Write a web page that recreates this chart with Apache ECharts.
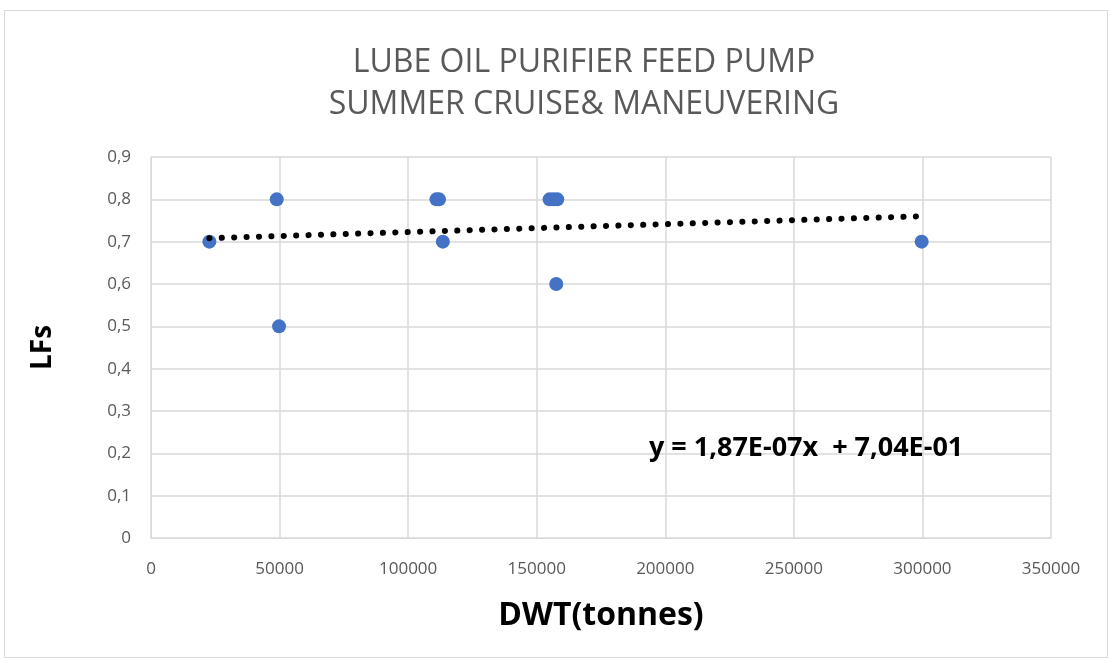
<!DOCTYPE html>
<html>
<head>
<meta charset="utf-8">
<script src="https://cdn.jsdelivr.net/npm/echarts@6/dist/echarts.min.js"></script>
<style>
  html, body { margin: 0; padding: 0; background: #fff; }
  #main {
    position: absolute;
    left: 4px; top: 10px;
    width: 1104px; height: 648px;
    border: 1px solid #d9d9d9;
    box-sizing: border-box;
  }
</style>
</head>
<body>
<div id="main"></div>
<script>
// DWT (tonnes) and load factors
var dwt = [22700, 48900, 49800, 111000, 112000, 113500, 155000, 156500, 158000, 157600, 299700];
var lfs = [0.7, 0.8, 0.5, 0.8, 0.8, 0.7, 0.8, 0.8, 0.8, 0.6, 0.7];
// trendline shown on the chart: y = 1,87E-07x + 7,04E-01
var slope = 1.87e-7;
var intercept = 0.704;
var trendX = [22700, 299700];

var chartDom = document.getElementById("main");
var myChart = echarts.init(chartDom);

var points = dwt.map(function (x, i) { return [x, lfs[i]]; });
var trend = trendX.map(function (x) { return [x, slope * x + intercept]; });

var font = "'Open Sans', sans-serif";

var option = {
  animation: false,
  textStyle: { fontFamily: font },
  grid: { left: 146, right: 56, top: 146, bottom: 119 },
  xAxis: {
    type: "value",
    min: 0,
    max: 350000,
    interval: 50000,
    name: "DWT(tonnes)",
    nameLocation: "middle",
    nameGap: 62,
    nameTextStyle: { fontSize: 32, fontWeight: "bold", color: "#000", fontFamily: font },
    axisLine: { lineStyle: { color: "#d9d9d9" } },
    axisTick: { show: false },
    axisLabel: {
      fontSize: 17,
      color: "#595959",
      margin: 23,
      formatter: function (v) { return String(v); },
    },
    splitLine: { lineStyle: { color: "#d9d9d9", width: 1.5 } },
  },
  yAxis: {
    type: "value",
    min: 0,
    max: 0.9,
    interval: 0.1,
    name: "LFs",
    nameLocation: "middle",
    nameGap: 94,
    nameTextStyle: { fontSize: 28, fontWeight: "bold", color: "#000", fontFamily: font },
    axisLine: { show: true, lineStyle: { color: "#d9d9d9" } },
    axisTick: { show: false },
    axisLabel: {
      fontSize: 17,
      color: "#595959",
      margin: 20,
      formatter: function (v) { return String(Math.round(v * 10) / 10).replace(".", ","); },
    },
    splitLine: { lineStyle: { color: "#d9d9d9", width: 1.5 } },
  },
  graphic: [
    {
      type: "text",
      x: 579,
      y: 31,
      z: 100,
      style: {
        text: "LUBE OIL PURIFIER FEED PUMP\nSUMMER CRUISE& MANEUVERING",
        align: "center",
        verticalAlign: "top",
        fontSize: 32,
        lineHeight: 42,
        fontFamily: font,
        fill: "#595959",
      },
    },
    {
      type: "text",
      left: 644,
      top: 424,
      z: 100,
      style: {
        text: "y = 1,87E-07x  + 7,04E-01",
        fontSize: 27,
        fontWeight: "bold",
        fontFamily: font,
        fill: "#000",
      },
    },
  ],
  series: [
    {
      name: "LFs",
      type: "scatter",
      data: points,
      symbolSize: 14,
      itemStyle: { color: "#4472c4", opacity: 1 },
      z: 3,
    },
    {
      name: "Trend",
      type: "line",
      data: trend,
      symbol: "none",
      lineStyle: { color: "#000", width: 6, type: [0.1, 12.3], cap: "round" },
      z: 4,
    },
  ],
};

option && myChart.setOption(option);
</script>
</body>
</html>
